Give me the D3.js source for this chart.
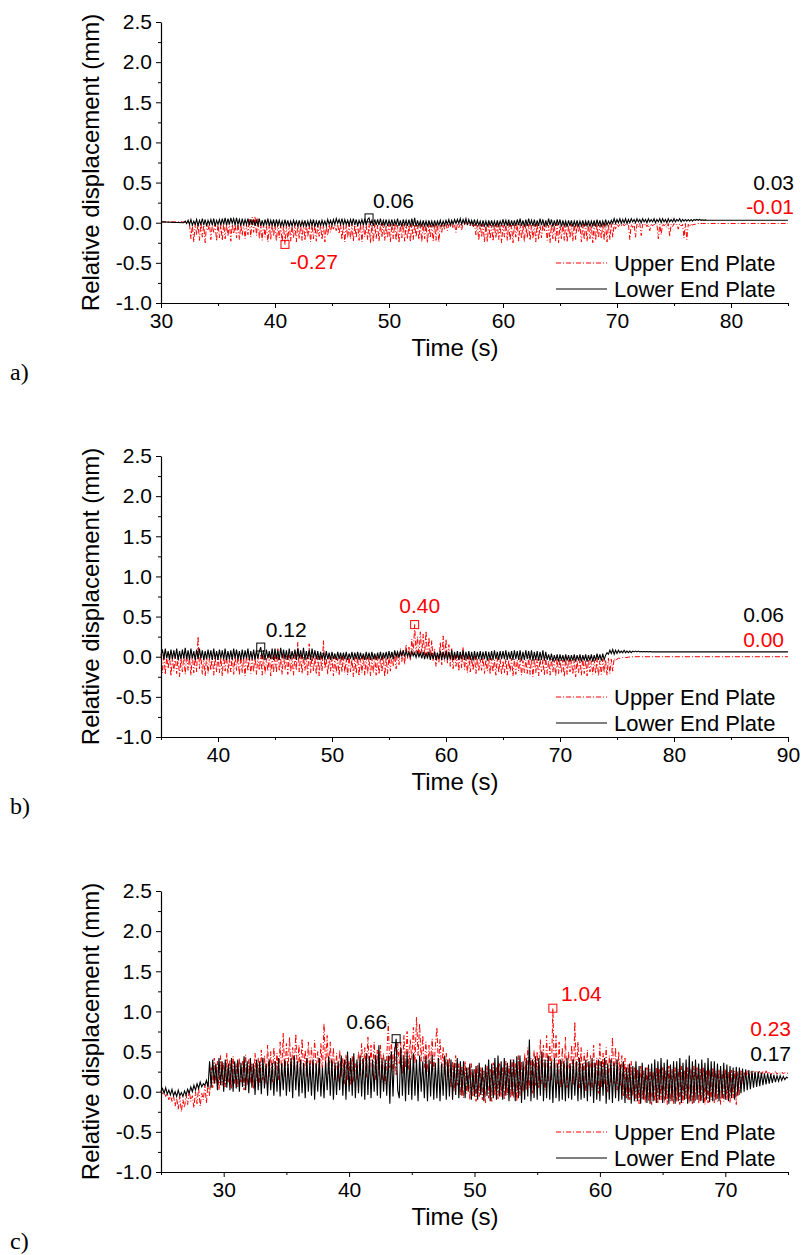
<!DOCTYPE html>
<html>
<head>
<meta charset="utf-8">
<script src="https://cdn.jsdelivr.net/npm/d3@7"></script>
<style>
body { margin: 0; background: #fff; }
svg { display: block; }
</style>
</head>
<body>
<svg width="801" height="1255"></svg>
<script>
var yTicks = [-1, -0.5, 0, 0.5, 1, 1.5, 2, 2.5];
var yMinor = [-0.75, -0.25, 0.25, 0.75, 1.25, 1.75, 2.25];

// ---- panel a ----
var aDomain = [30, 85];
var aTicks = [30, 40, 50, 60, 70, 80];
var aMinor = [35, 45, 55, 65, 75, 85];
var aStep = 0.125;
var aUpperStart = 32.5;
var aUpper = [
  -0.02,-0.20,-0.03,-0.24,-0.01,-0.15,-0.02,-0.22,
  0.00,-0.18,-0.03,-0.25,-0.02,-0.10,-0.01,-0.21,
  -0.03,-0.12,-0.02,-0.23,-0.01,-0.19,-0.03,-0.22,
  -0.01,-0.20,-0.02,-0.17,0.01,-0.23,-0.02,-0.14,
  -0.02,-0.19,0.00,-0.21,-0.03,-0.16,-0.01,-0.20,
  -0.02,-0.15,0.05,-0.18,0.07,-0.12,0.08,-0.16,
  0.06,-0.20,-0.02,-0.22,-0.01,-0.18,-0.03,-0.24,
  -0.02,-0.21,-0.01,-0.17,-0.03,-0.23,-0.02,-0.19,
  -0.02,-0.24,-0.03,-0.27,-0.04,-0.21,-0.01,-0.23,
  -0.03,-0.19,-0.02,-0.24,-0.01,-0.20,-0.03,-0.22,
  0.00,-0.22,-0.02,-0.18,-0.03,-0.24,-0.01,-0.20,
  -0.02,-0.23,-0.01,-0.17,-0.03,-0.21,-0.02,-0.24,
  -0.04,-0.16,-0.02,-0.12,-0.01,-0.08,-0.03,-0.10,
  -0.02,-0.14,-0.01,-0.21,-0.03,-0.24,-0.02,-0.19,
  -0.02,-0.20,-0.01,-0.23,-0.03,-0.19,0.00,-0.22,
  -0.01,-0.24,-0.02,-0.18,-0.03,-0.21,-0.01,-0.25,
  -0.02,-0.24,-0.01,-0.20,-0.03,-0.23,-0.02,-0.18,
  -0.01,-0.22,-0.03,-0.19,-0.02,-0.24,-0.01,-0.20,
  -0.01,-0.22,-0.03,-0.25,-0.02,-0.19,-0.01,-0.23,
  -0.02,-0.20,-0.03,-0.24,-0.01,-0.21,-0.02,-0.18,
  -0.03,-0.21,-0.02,-0.24,-0.01,-0.20,-0.02,-0.25,
  -0.01,-0.19,-0.03,-0.23,-0.02,-0.22,-0.01,-0.24,
  -0.03,-0.12,-0.02,-0.08,-0.01,-0.10,-0.02,-0.05,
  -0.01,-0.07,-0.02,-0.12,-0.01,-0.06,-0.02,-0.09,
  0.00,-0.03,0.01,-0.02,-0.01,-0.04,0.00,-0.06,
  -0.02,-0.15,-0.03,-0.22,-0.01,-0.18,-0.02,-0.24,
  -0.02,-0.24,-0.01,-0.20,-0.03,-0.23,-0.02,-0.19,
  -0.01,-0.21,-0.02,-0.25,-0.03,-0.18,-0.01,-0.22,
  -0.01,-0.22,-0.03,-0.25,-0.02,-0.18,-0.01,-0.23,
  -0.02,-0.20,-0.03,-0.24,-0.01,-0.19,-0.02,-0.22,
  -0.03,-0.20,-0.02,-0.24,-0.01,-0.21,-0.03,-0.19,
  -0.02,-0.10,-0.01,-0.22,-0.03,-0.25,-0.02,-0.20,
  -0.02,-0.23,-0.01,-0.25,-0.03,-0.20,-0.02,-0.22,
  -0.01,-0.24,-0.03,-0.19,-0.02,-0.23,-0.01,-0.21,
  -0.01,-0.12,-0.03,-0.24,-0.02,-0.21,-0.01,-0.23,
  -0.02,-0.20,-0.03,-0.25,-0.01,-0.22,-0.02,-0.19,
  -0.03,-0.20,-0.02,-0.22,-0.01,-0.24,-0.02,-0.21,
  -0.01,-0.18,-0.02,-0.08,-0.01,-0.05,-0.02,-0.04,
  -0.01,-0.04,-0.02,-0.03,-0.01,-0.21,-0.02,-0.06,
  -0.01,-0.18,-0.02,-0.05,-0.01,-0.16,-0.02,-0.04,
  -0.01,-0.05,-0.02,-0.10,-0.01,-0.04,-0.02,-0.03,
  -0.01,-0.20,-0.02,-0.15,-0.01,-0.04,-0.02,-0.06,
  -0.01,-0.17,-0.02,-0.05,-0.01,-0.03,-0.02,-0.08,
  -0.01,-0.04,-0.02,-0.19,-0.01,-0.21,-0.02,-0.05,
  -0.01,-0.03,-0.02,-0.02,-0.01
];
var aUpperLead = [[30, 0.01], [32.375, 0.01]];
var aUpperTail = [[77.5, -0.01], [85, -0.01]];
var aLowerStart = 32;
var aLower = [
  0.00,0.02,-0.01,0.03,-0.02,0.04,-0.03,0.02,
  -0.02,0.04,-0.04,0.03,-0.02,0.05,-0.03,0.04,
  -0.04,0.03,-0.02,0.04,-0.03,0.05,-0.04,0.03,
  -0.02,0.04,-0.03,0.05,-0.02,0.06,-0.03,0.05,
  -0.02,0.06,-0.01,0.05,-0.03,0.06,-0.02,0.04,
  -0.04,0.05,-0.03,0.04,-0.02,0.05,-0.03,0.04,
  -0.03,0.04,-0.04,0.03,-0.03,0.05,-0.04,0.03,
  -0.04,0.04,-0.03,0.05,-0.04,0.03,-0.03,0.04,
  -0.05,0.04,-0.03,0.03,-0.04,0.02,-0.05,0.04,
  -0.04,0.03,-0.05,0.02,-0.04,0.03,-0.03,0.02,
  -0.04,0.03,-0.05,0.02,-0.04,0.03,-0.05,0.02,
  -0.04,0.03,-0.03,0.04,-0.05,0.02,-0.04,0.03,
  -0.04,0.03,-0.03,0.02,-0.04,0.04,-0.02,0.03,
  -0.03,0.04,-0.02,0.05,-0.01,0.04,-0.02,0.05,
  -0.03,0.04,-0.02,0.03,-0.03,0.04,-0.02,0.05,
  -0.03,0.04,-0.04,0.03,-0.02,0.04,-0.03,0.05,
  -0.03,0.04,0.06,-0.02,0.03,-0.04,0.04,-0.03,
  0.04,-0.03,0.05,-0.04,0.03,-0.03,0.04,-0.04,
  0.03,-0.03,0.04,-0.04,0.03,-0.03,0.05,-0.04,
  0.03,-0.05,0.04,-0.03,0.03,-0.04,0.04,-0.05,
  0.05,-0.04,0.06,-0.05,0.03,-0.04,0.02,-0.05,
  0.03,-0.04,0.02,-0.05,0.03,-0.04,0.02,-0.05,
  0.03,-0.04,0.02,-0.03,0.03,-0.04,0.02,-0.03,
  0.03,-0.02,0.04,-0.03,0.03,-0.02,0.04,-0.01,
  0.04,-0.01,0.05,-0.02,0.04,-0.01,0.05,-0.03,
  0.04,-0.02,0.03,-0.03,0.04,-0.04,0.03,-0.03,
  0.02,-0.05,0.03,-0.04,0.02,-0.05,0.03,-0.04,
  0.03,-0.04,0.02,-0.05,0.03,-0.04,0.02,-0.03,
  0.04,-0.03,0.03,-0.04,0.04,-0.05,0.03,-0.04,
  0.03,-0.04,0.04,-0.03,0.05,-0.04,0.03,-0.05,
  0.04,-0.04,0.05,-0.03,0.03,-0.04,0.04,-0.05,
  0.03,-0.04,0.05,-0.03,0.04,-0.05,0.03,-0.04,
  0.05,-0.03,0.04,-0.05,0.03,-0.04,0.04,-0.03,
  0.04,-0.05,0.03,-0.04,0.02,-0.05,0.03,-0.04,
  0.03,-0.05,0.02,-0.04,0.03,-0.05,0.02,-0.04,
  0.03,-0.05,0.02,-0.04,0.03,-0.05,0.02,-0.04,
  0.03,-0.05,0.04,-0.04,0.03,-0.05,0.02,-0.04,
  0.04,-0.03,0.02,-0.02,0.03,-0.01,0.05,-0.01,
  0.04,0.00,0.05,-0.01,0.04,0.00,0.05,-0.01,
  0.04,0.00,0.05,0.01,0.04,0.00,0.05,0.01,
  0.04,0.00,0.05,0.01,0.04,0.00,0.05,0.01,
  0.04,0.01,0.05,0.00,0.04,0.01,0.05,0.00,
  0.05,0.01,0.04,0.00,0.05,0.01,0.04,0.01,
  0.05,0.01,0.04,0.02,0.05,0.01,0.04,0.02,
  0.04,0.02,0.04,0.02,0.04,0.02,0.04,0.03,
  0.04,0.03,0.04,0.03,0.035,0.03,0.035,0.03,
  0.03
];
var aLowerLead = [[30, 0.01]];
var aLowerTail = [[78.5, 0.03], [85, 0.03]];
var aPeaks = [[40.875, -0.27, "upper"], [48.25, 0.06, "lower"]];

// ---- panel b ----
var bDomain = [35, 90];
var bTicks = [40, 50, 60, 70, 80, 90];
var bMinor = [35, 45, 55, 65, 75, 85];
var bStep = 0.125;
var bUpperStart = 35;
var bUpper = [
  0.02,-0.20,0.05,-0.22,0.00,-0.15,0.03,-0.24,
  -0.01,-0.18,0.02,-0.21,0.01,-0.25,-0.02,-0.19,
  0.01,-0.22,0.03,-0.17,-0.01,-0.23,0.02,-0.20,
  0.00,-0.19,0.25,-0.15,0.02,-0.22,-0.01,-0.24,
  0.01,-0.21,-0.02,-0.17,0.02,-0.23,0.00,-0.19,
  0.03,-0.20,-0.01,-0.24,0.02,-0.18,0.01,-0.21,
  -0.02,-0.19,0.03,-0.22,0.00,-0.17,0.02,-0.23,
  0.01,-0.20,-0.02,-0.24,0.03,-0.18,0.00,-0.21,
  -0.02,-0.19,0.03,-0.22,0.00,-0.17,0.02,-0.23,
  0.01,-0.21,-0.02,-0.18,0.02,-0.24,0.00,-0.20,
  0.05,-0.20,0.10,-0.18,-0.02,-0.22,0.03,-0.16,
  0.01,-0.22,0.02,-0.19,-0.01,-0.23,0.02,-0.17,
  0.18,-0.19,0.02,-0.21,0.00,-0.17,-0.01,-0.23,
  0.16,-0.20,0.02,-0.18,-0.01,-0.22,0.01,-0.24,
  0.01,-0.18,0.20,-0.15,-0.02,-0.22,0.02,-0.18,
  -0.01,-0.24,0.00,-0.20,-0.02,-0.23,0.01,-0.19,
  0.00,-0.20,-0.02,-0.23,0.01,-0.19,-0.03,-0.25,
  -0.01,-0.21,0.00,-0.24,-0.02,-0.20,0.01,-0.23,
  -0.01,-0.21,0.00,-0.24,-0.02,-0.20,0.01,-0.23,
  0.00,-0.22,-0.02,-0.19,0.01,-0.25,-0.01,-0.21,
  0.00,-0.18,0.05,-0.12,0.03,-0.15,0.06,-0.10,
  0.10,-0.06,0.08,-0.10,0.15,-0.02,0.12,-0.05,
  0.22,0.02,0.40,0.05,0.25,0.00,0.31,0.04,
  0.28,0.02,0.32,-0.03,0.24,0.00,0.20,-0.05,
  0.10,-0.12,0.05,-0.08,0.18,-0.10,0.26,-0.06,
  0.22,-0.08,0.15,-0.12,0.10,-0.15,0.05,-0.12,
  0.02,-0.18,0.06,-0.14,0.12,-0.16,0.00,-0.20,
  0.02,-0.19,-0.01,-0.17,0.01,-0.21,-0.02,-0.18,
  -0.03,-0.17,-0.01,-0.21,-0.04,-0.18,-0.02,-0.22,
  -0.02,-0.19,-0.04,-0.23,-0.01,-0.20,-0.03,-0.22,
  -0.05,-0.20,-0.03,-0.23,-0.04,-0.19,-0.02,-0.24,
  -0.03,-0.22,-0.04,-0.18,-0.02,-0.23,-0.05,-0.20,
  -0.04,-0.21,-0.01,-0.22,-0.03,-0.25,-0.02,-0.20,
  -0.03,-0.24,-0.02,-0.19,-0.04,-0.23,-0.01,-0.21,
  -0.05,-0.23,-0.03,-0.19,-0.04,-0.24,-0.02,-0.21,
  -0.03,-0.20,-0.04,-0.25,-0.02,-0.22,-0.03,-0.19,
  -0.04,-0.22,-0.03,-0.25,-0.05,-0.20,-0.03,-0.23,
  -0.02,-0.21,-0.04,-0.24,-0.03,-0.19,-0.05,-0.22,
  -0.04,-0.21,-0.02,-0.24,-0.05,-0.22,-0.03,-0.20,
  -0.04,-0.23,-0.02,-0.21,-0.03,-0.18,-0.02,-0.05,
  -0.03,-0.02,-0.02,-0.02,-0.01,-0.01,-0.01,-0.01,
  -0.005
];
var bUpperLead = [];
var bUpperTail = [[76.5, 0.00], [90, 0.00]];
var bLowerStart = 35;
var bLower = [
  0.02,0.09,-0.03,0.10,-0.02,0.07,-0.04,0.09,
  -0.03,0.08,-0.02,0.10,-0.04,0.07,-0.03,0.09,
  -0.02,0.11,-0.03,0.08,-0.04,0.10,-0.02,0.07,
  -0.04,0.09,-0.03,0.10,-0.02,0.08,-0.04,0.07,
  -0.03,0.09,-0.02,0.08,-0.04,0.10,-0.03,0.07,
  -0.04,0.09,-0.02,0.08,-0.03,0.10,-0.04,0.07,
  -0.03,0.08,-0.04,0.10,-0.02,0.09,-0.03,0.07,
  -0.04,0.09,-0.03,0.08,-0.02,0.10,-0.04,0.07,
  -0.03,0.09,-0.04,0.08,-0.02,0.07,0.12,-0.03,
  0.08,-0.04,0.09,-0.02,0.07,-0.03,0.10,-0.04,
  0.10,-0.03,0.08,-0.04,0.11,-0.02,0.09,-0.03,
  0.08,-0.04,0.10,-0.03,0.07,-0.02,0.09,-0.04,
  0.10,-0.02,0.08,-0.03,0.11,-0.04,0.07,-0.03,
  0.09,-0.04,0.10,-0.02,0.08,-0.03,0.07,-0.04,
  0.06,-0.03,0.05,-0.04,0.07,-0.03,0.05,-0.04,
  0.06,-0.03,0.04,-0.04,0.06,-0.03,0.05,-0.04,
  0.05,-0.03,0.06,-0.04,0.04,-0.03,0.06,-0.04,
  0.05,-0.03,0.06,-0.04,0.05,-0.03,0.04,-0.04,
  0.06,-0.03,0.05,-0.04,0.06,-0.03,0.04,-0.04,
  0.05,-0.03,0.06,-0.04,0.05,-0.02,0.06,-0.03,
  0.07,-0.02,0.06,-0.03,0.08,0.00,0.06,-0.01,
  0.07,0.01,0.08,0.00,0.07,0.01,0.06,-0.01,
  0.07,0.01,0.05,-0.01,0.06,0.00,0.05,-0.02,
  0.06,-0.03,0.05,-0.02,0.06,-0.04,0.05,-0.03,
  0.06,-0.04,0.05,-0.03,0.07,-0.04,0.06,-0.03,
  0.07,-0.04,0.06,-0.03,0.08,-0.04,0.06,-0.03,
  0.07,-0.04,0.06,-0.03,0.08,-0.04,0.06,-0.03,
  0.07,-0.04,0.06,-0.05,0.07,-0.04,0.06,-0.03,
  0.07,-0.04,0.06,-0.03,0.07,-0.05,0.06,-0.04,
  0.07,-0.04,0.08,-0.03,0.06,-0.04,0.07,-0.03,
  0.07,-0.03,0.08,-0.04,0.06,-0.03,0.07,-0.04,
  0.08,-0.03,0.07,-0.04,0.08,-0.05,0.06,-0.04,
  0.08,-0.03,0.07,-0.04,0.08,-0.05,0.06,-0.04,
  0.07,-0.05,0.06,-0.04,0.08,-0.05,0.06,-0.04,
  0.03,-0.05,0.04,-0.06,0.02,-0.05,0.03,-0.06,
  0.03,-0.05,0.02,-0.06,0.03,-0.05,0.02,-0.06,
  0.02,-0.05,0.03,-0.06,0.02,-0.05,0.03,-0.06,
  0.02,-0.05,0.03,-0.06,0.02,-0.05,0.03,-0.06,
  0.02,-0.05,0.04,-0.04,0.03,-0.05,0.04,-0.04,
  0.02,0.05,0.03,0.08,0.04,0.09,0.03,0.08,
  0.04,0.08,0.05,0.07,0.05,0.08,0.05,0.07,
  0.05,0.07,0.05,0.07,0.06,0.07,0.06,0.07,
  0.06,0.065,0.06,0.065,0.06,0.065,0.06,0.065,
  0.06
];
var bLowerLead = [];
var bLowerTail = [[78.5, 0.06], [90, 0.06]];
var bPeaks = [[57.25, 0.40, "upper"], [43.75, 0.12, "lower"]];

// ---- panel c ----
var cDomain = [25, 75];
var cTicks = [30, 40, 50, 60, 70];
var cMinor = [25, 35, 45, 55, 65, 75];
var cStep = 0.125;
var cUpperStart = 25;
var cUpper = [
  0.02,-0.03,0.00,-0.06,-0.02,-0.10,-0.04,-0.12,
  -0.05,-0.18,-0.08,-0.22,-0.06,-0.25,-0.10,-0.20,
  -0.04,-0.16,0.02,-0.12,-0.05,-0.20,0.00,-0.15,
  0.05,-0.18,-0.02,-0.10,0.08,-0.14,0.12,-0.05,
  0.30,0.05,0.42,0.10,0.38,0.02,0.45,0.08,
  0.36,0.06,0.48,0.12,0.40,0.04,0.44,0.10,
  0.35,0.05,0.42,0.12,0.38,0.02,0.46,0.08,
  0.40,0.10,0.36,0.04,0.48,0.14,0.42,0.08,
  0.52,0.15,0.45,0.10,0.58,0.18,0.50,0.12,
  0.55,0.20,0.48,0.15,0.62,0.22,0.73,0.18,
  0.60,0.25,0.68,0.20,0.55,0.28,0.72,0.22,
  0.58,0.20,0.66,0.26,0.52,0.18,0.62,0.24,
  0.55,0.22,0.64,0.28,0.50,0.20,0.60,0.25,
  0.85,0.30,0.70,0.22,0.62,0.18,0.55,0.15,
  0.48,0.12,0.52,0.18,0.42,0.10,0.46,0.14,
  0.38,0.08,0.45,0.12,0.35,0.15,0.50,0.20,
  0.60,0.22,0.55,0.18,0.68,0.25,0.58,0.20,
  0.62,0.15,0.52,0.20,0.58,0.12,0.48,0.10,
  0.42,0.85,0.30,0.62,0.25,0.55,0.20,0.60,
  0.35,0.62,0.22,0.70,0.30,0.75,0.28,0.65,
  0.40,0.80,0.35,0.93,0.45,0.85,0.38,0.70,
  0.30,0.62,0.25,0.58,0.35,0.66,0.28,0.55,
  0.80,0.32,0.65,0.25,0.55,0.20,0.48,0.15,
  0.42,0.05,0.38,0.00,0.45,0.08,0.35,-0.05,
  0.32,-0.08,0.38,-0.02,0.30,-0.10,0.35,-0.05,
  0.28,-0.12,0.34,-0.06,0.30,-0.10,0.26,-0.14,
  0.32,-0.08,0.28,-0.12,0.36,-0.05,0.30,-0.10,
  0.35,-0.06,0.30,-0.10,0.38,-0.04,0.32,-0.08,
  0.40,-0.08,0.35,-0.12,0.45,-0.05,0.38,0.00,
  0.48,0.02,0.55,0.05,0.42,-0.02,0.52,0.08,
  0.50,0.05,0.65,0.10,0.58,0.02,0.70,0.12,
  0.60,0.15,1.04,0.20,0.70,0.10,0.62,0.05,
  0.55,0.10,0.68,0.05,0.50,0.12,0.58,0.08,
  0.87,0.15,0.62,0.05,0.55,0.10,0.48,0.00,
  0.52,0.08,0.45,0.02,0.58,0.10,0.42,-0.02,
  0.60,0.05,0.48,0.10,0.55,0.00,0.45,0.08,
  0.68,0.10,0.55,0.02,0.50,0.08,0.45,-0.05,
  0.42,-0.08,0.35,-0.10,0.38,-0.05,0.30,-0.12,
  0.28,-0.15,0.32,-0.10,0.26,-0.14,0.30,-0.12,
  0.28,-0.16,0.25,-0.12,0.30,-0.15,0.28,-0.10,
  0.30,-0.14,0.26,-0.16,0.32,-0.12,0.28,-0.15,
  0.30,-0.12,0.28,-0.16,0.32,-0.14,0.26,-0.10,
  0.30,-0.14,0.28,-0.16,0.32,-0.12,0.30,-0.15,
  0.28,-0.12,0.30,-0.16,0.26,-0.14,0.28,-0.10,
  0.30,-0.14,0.26,-0.12,0.28,-0.16,0.25,-0.12,
  0.28,-0.10,0.25,-0.14,0.27,-0.08,0.26,-0.16,
  0.25,-0.05,0.26,0.10,0.25,0.16,0.26,0.18,
  0.25,0.19,0.26,0.20,0.25,0.21,0.26,0.20,
  0.25,0.21,0.26,0.22,0.25,0.21,0.24,0.22,
  0.25,0.22,0.24,0.23,0.25,0.22,0.24,0.23,
  0.23
];
var cUpperLead = [];
var cUpperTail = [];
var cLowerStart = 25;
var cLower = [
  0.00,0.04,-0.02,0.05,-0.03,0.02,-0.04,0.03,
  -0.05,0.00,-0.06,0.02,-0.05,-0.01,-0.06,0.01,
  -0.04,0.03,-0.02,0.06,0.00,0.08,0.02,0.10,
  0.04,0.12,0.06,0.10,0.08,0.14,0.05,0.38,
  0.05,0.40,0.10,0.35,0.02,0.42,0.08,0.38,
  0.00,0.40,0.05,0.35,0.02,0.42,0.00,0.38,
  0.04,0.40,0.00,0.36,0.06,0.44,0.02,0.38,
  -0.02,0.42,0.05,0.35,-0.04,0.40,0.02,0.38,
  -0.03,0.42,0.04,0.35,-0.05,0.40,0.02,0.36,
  -0.05,0.38,0.00,0.42,-0.06,0.35,0.02,0.40,
  -0.05,0.35,0.00,0.42,-0.08,0.45,0.02,0.38,
  -0.06,0.40,-0.02,0.36,-0.08,0.42,0.00,0.35,
  -0.05,0.40,-0.10,0.35,0.00,0.42,-0.06,0.30,
  -0.08,0.38,0.02,0.44,-0.05,0.40,-0.10,0.36,
  -0.04,0.38,0.02,0.45,-0.05,0.40,-0.10,0.50,
  0.00,0.42,-0.05,0.48,-0.08,0.40,-0.02,0.45,
  -0.06,0.42,-0.10,0.48,-0.04,0.44,-0.08,0.40,
  0.00,0.46,-0.05,0.58,-0.08,0.42,0.00,0.40,
  -0.05,0.45,-0.15,0.50,-0.06,0.48,0.66,0.02,
  -0.08,0.55,-0.05,0.45,-0.12,0.50,-0.04,0.42,
  -0.10,0.48,-0.05,0.40,-0.12,0.45,0.00,0.38,
  -0.08,0.44,-0.12,0.40,-0.06,0.46,-0.10,0.36,
  -0.08,0.42,-0.12,0.35,-0.05,0.45,-0.10,0.40,
  -0.06,0.40,-0.10,0.36,-0.04,0.42,-0.08,0.38,
  -0.05,0.38,-0.08,0.30,0.00,0.35,-0.10,0.28,
  -0.06,0.32,-0.10,0.36,-0.04,0.30,-0.12,0.34,
  -0.05,0.40,-0.12,0.35,-0.08,0.42,-0.10,0.45,
  -0.06,0.38,-0.10,0.42,-0.05,0.36,-0.12,0.40,
  -0.05,0.40,-0.12,0.44,-0.08,0.45,-0.14,0.38,
  -0.10,0.42,-0.06,0.65,-0.12,0.40,-0.08,0.44,
  -0.10,0.42,-0.05,0.50,-0.12,0.40,-0.08,0.45,
  -0.10,0.38,-0.14,0.42,-0.08,0.35,-0.12,0.40,
  -0.10,0.38,-0.12,0.42,-0.08,0.35,-0.10,0.40,
  -0.05,0.38,-0.12,0.42,-0.10,0.35,-0.08,0.40,
  -0.12,0.38,-0.06,0.42,-0.14,0.36,-0.10,0.40,
  -0.12,0.38,-0.05,0.42,-0.15,0.35,-0.10,0.40,
  -0.14,0.36,-0.08,0.40,-0.12,0.34,-0.10,0.38,
  -0.14,0.30,-0.10,0.35,-0.15,0.32,-0.12,0.38,
  -0.12,0.32,-0.15,0.36,-0.10,0.30,-0.14,0.34,
  -0.15,0.35,-0.12,0.40,-0.14,0.38,-0.10,0.42,
  -0.14,0.36,-0.10,0.40,-0.15,0.34,-0.12,0.38,
  -0.15,0.38,-0.12,0.42,-0.14,0.36,-0.10,0.40,
  -0.15,0.45,-0.12,0.38,-0.14,0.40,-0.10,0.35,
  -0.12,0.40,-0.14,0.36,-0.10,0.42,-0.13,0.38,
  -0.12,0.38,-0.10,0.35,-0.12,0.32,-0.08,0.36,
  -0.10,0.34,-0.12,0.32,-0.08,0.30,-0.10,0.31,
  -0.05,0.30,-0.02,0.29,0.00,0.28,0.02,0.27,
  0.03,0.26,0.05,0.25,0.06,0.25,0.07,0.24,
  0.08,0.23,0.09,0.23,0.10,0.22,0.11,0.21,
  0.12,0.20,0.13,0.20,0.14,0.19,0.15,0.18,
  0.17
];
var cLowerLead = [];
var cLowerTail = [];
var cPeaks = [[56.25, 1.04, "upper"], [43.75, 0.66, "lower"]];

// ---- drawing ----
var svg = d3.select("svg");
var left = 161, right = 788, h = 281;
var red = "#ff0000";
var sans = "'Liberation Sans', Arial, sans-serif";
// plain hyphen for negative numbers, like the original figure
var loc = d3.formatLocale({decimal: ".", thousands: ",", grouping: [3], currency: ["", ""], minus: "-"});
var fmt = loc.format(".2f");

function build(start, step, vals, lead, tail) {
  return lead.concat(vals.map(function(v, i) { return [start + i * step, v]; }), tail);
}

function drawPanel(p) {
  var g = svg.append("g").attr("transform", "translate(0," + p.top + ")");
  var x = d3.scaleLinear().domain(p.domain).range([left, right]);
  var y = d3.scaleLinear().domain([-1, 2.5]).range([h, 0]);
  var line = d3.line().x(function(d) { return x(d[0]); }).y(function(d) { return y(d[1]); });

  g.append("path").datum(p.upper)
    .attr("d", line).attr("fill", "none")
    .attr("stroke", red).attr("stroke-width", 1)
    .attr("stroke-dasharray", "5,2,1,2");
  g.append("path").datum(p.lower)
    .attr("d", line).attr("fill", "none")
    .attr("stroke", "#000").attr("stroke-width", 1.1);

  // minor ticks
  g.append("g").attr("transform", "translate(0," + h + ")")
    .call(d3.axisBottom(x).tickValues(p.minor).tickSize(3).tickFormat(""))
    .call(function(s) { s.select(".domain").remove(); });
  g.append("g").attr("transform", "translate(" + left + ",0)")
    .call(d3.axisLeft(y).tickValues(yMinor).tickSize(3).tickFormat(""))
    .call(function(s) { s.select(".domain").remove(); });

  var xa = g.append("g").attr("transform", "translate(0," + h + ")")
    .call(d3.axisBottom(x).tickValues(p.ticks).tickSize(5).tickSizeOuter(0)
      .tickPadding(5).tickFormat(loc.format("d")));
  var ya = g.append("g").attr("transform", "translate(" + left + ",0)")
    .call(d3.axisLeft(y).tickValues(yTicks).tickSize(5).tickSizeOuter(0)
      .tickPadding(4).tickFormat(loc.format(".1f")));
  [xa, ya].forEach(function(a) {
    a.attr("font-size", 21).attr("font-family", sans);
    a.select(".domain").attr("stroke-width", 1.2);
  });

  g.append("text").attr("x", 455).attr("y", h + 53)
    .attr("text-anchor", "middle").attr("font-family", sans).attr("font-size", 24)
    .text("Time (s)");
  g.append("text").attr("transform", "translate(91," + (h / 2) + ") rotate(-90)")
    .attr("text-anchor", "middle").attr("dy", "0.35em")
    .attr("font-family", sans).attr("font-size", 24)
    .text("Relative displacement (mm)");

  // legend
  var leg = [["Upper End Plate", red, "5,2,1,2", 241], ["Lower End Plate", "#000", null, 267]];
  leg.forEach(function(l) {
    g.append("line").attr("x1", right - 232).attr("x2", right - 181)
      .attr("y1", l[3]).attr("y2", l[3])
      .attr("stroke", l[1]).attr("stroke-width", 1.2)
      .attr("stroke-dasharray", l[2]);
    g.append("text").attr("x", right - 174).attr("y", l[3]).attr("dy", "0.36em")
      .attr("font-family", sans).attr("font-size", 22).text(l[0]);
  });

  // peak markers and labels
  p.peaks.forEach(function(pk, i) {
    var col = pk[2] === "upper" ? red : "#000";
    var px = x(pk[0]), py = y(pk[1]), o = p.peakPos[i];
    g.append("rect").attr("x", px - 4).attr("y", py - 4)
      .attr("width", 8).attr("height", 8)
      .attr("fill", "none").attr("stroke", col).attr("stroke-width", 1);
    g.append("text").attr("x", px + o[0]).attr("y", py + o[1]).attr("dy", "0.36em")
      .attr("text-anchor", o[2]).attr("fill", col)
      .attr("font-family", sans).attr("font-size", 21).text(fmt(pk[1]));
  });

  // end values
  var ends = [[p.upper[p.upper.length - 1][1], red], [p.lower[p.lower.length - 1][1], "#000"]];
  ends.forEach(function(e, i) {
    g.append("text").attr("x", p.endX).attr("y", y(e[0]) + p.endDy[i]).attr("dy", "0.36em")
      .attr("text-anchor", "end").attr("fill", e[1])
      .attr("font-family", sans).attr("font-size", 21).text(fmt(e[0]));
  });

  svg.append("text").attr("x", 10).attr("y", p.top + 358)
    .attr("font-family", "'Liberation Serif', 'DejaVu Serif', serif").attr("font-size", 24)
    .text(p.tag);
}

drawPanel({
  top: 22, domain: aDomain, ticks: aTicks, minor: aMinor, tag: "a)",
  upper: build(aUpperStart, aStep, aUpper, aUpperLead, aUpperTail),
  lower: build(aLowerStart, aStep, aLower, aLowerLead, aLowerTail),
  peaks: aPeaks, peakPos: [[5, 17, "start"], [4, -17, "start"]],
  endX: 794, endDy: [-17, -38]
});
drawPanel({
  top: 456, domain: bDomain, ticks: bTicks, minor: bMinor, tag: "b)",
  upper: build(bUpperStart, bStep, bUpper, bUpperLead, bUpperTail),
  lower: build(bLowerStart, bStep, bLower, bLowerLead, bLowerTail),
  peaks: bPeaks, peakPos: [[5, -19, "middle"], [5, -18, "start"]],
  endX: 784, endDy: [-17, -37]
});
drawPanel({
  top: 891, domain: cDomain, ticks: cTicks, minor: cMinor, tag: "c)",
  upper: build(cUpperStart, cStep, cUpper, cUpperLead, cUpperTail),
  lower: build(cLowerStart, cStep, cLower, cLowerLead, cLowerTail),
  peaks: cPeaks, peakPos: [[8, -15, "start"], [-9, -17, "end"]],
  endX: 791, endDy: [-45, -25]
});
</script>
</body>
</html>
